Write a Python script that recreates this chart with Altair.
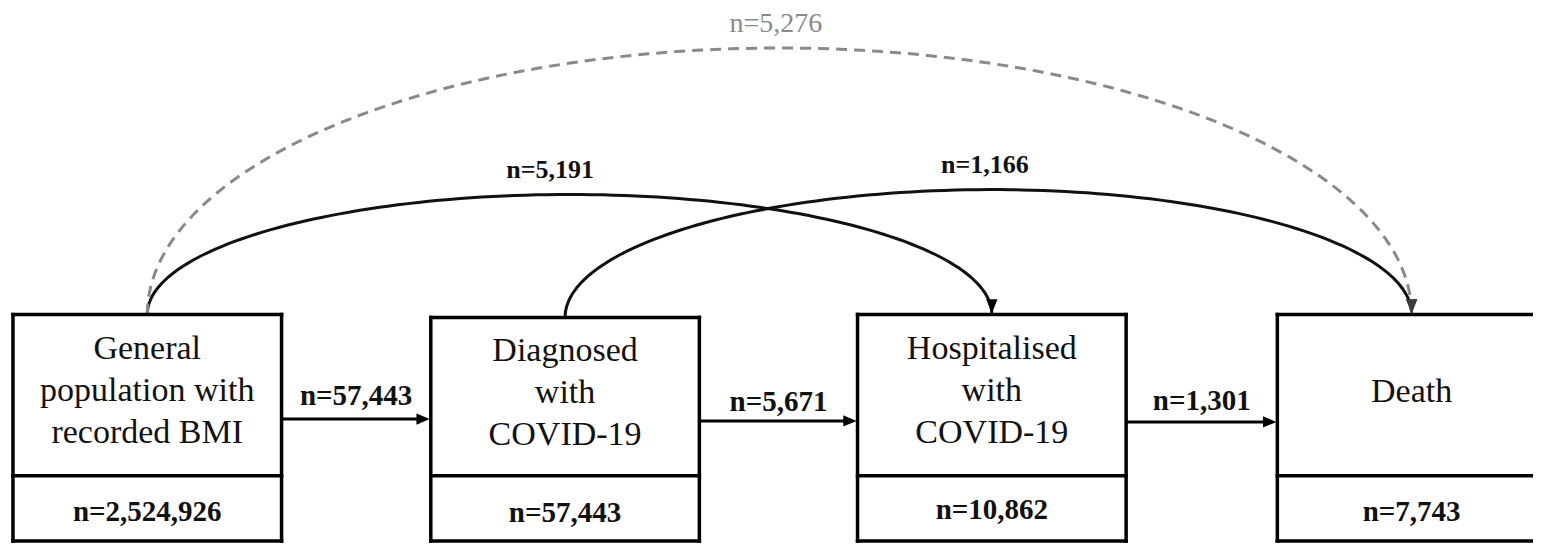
import altair as alt
import numpy as np
import pandas as pd

# ---------------- data ----------------
stage_lines = [
    ["General", "population with", "recorded BMI"],
    ["Diagnosed", "with", "COVID-19"],
    ["Hospitalised", "with", "COVID-19"],
    ["Death"],
]
stage_counts = ["n=2,524,926", "n=57,443", "n=10,862", "n=7,743"]
step_counts = ["n=57,443", "n=5,671", "n=1,301"]
skip_from = [0, 1, 0]
skip_to = [2, 3, 3]
skip_counts = ["n=5,191", "n=1,166", "n=5,276"]
skip_dashed = [False, False, True]

# ---------------- layout (reference pixel coordinates) ----------------
box_left = [13, 433, 862, 1284]
box_width = 270
box_top = [318, 321, 318, 318]
divider_y = 483
box_bottom = 550
text_center_y = [396, 398, 396, 397]
line_gap = 43
count_y = [520, 521, 518, 520]
step_y = [425, 427, 428]
step_label_y = [401, 408, 407]
arc_peak_y = [195, 190, 45]
arc_label_x = [553, 990, 780]
arc_label_y = [170, 165, 20]

FONT = "Liberation Serif"
W, H = 1525, 536
XS = alt.Scale(domain=[8, 1541], nice=False, zero=False)
YS = alt.Scale(domain=[4, 553], nice=False, zero=False, reverse=True)


def X(f):
    return alt.X(f, type="quantitative", scale=XS, axis=None)


def Y(f):
    return alt.Y(f, type="quantitative", scale=YS, axis=None)


centers = [l + box_width / 2 for l in box_left]
right_edge = [l + box_width for l in box_left[:3]] + [1541]

# white box backgrounds
boxes = pd.DataFrame({"x": box_left, "x2": right_edge, "y": box_top, "y2": [box_bottom] * 4})

# box outlines as segments (the last box runs off the right edge)
seg = []
for i in range(4):
    l, r, t = box_left[i], right_edge[i], box_top[i]
    seg.append({"x": l, "x2": r, "y": t, "y2": t})
    seg.append({"x": l, "x2": r, "y": divider_y, "y2": divider_y})
    seg.append({"x": l, "x2": r, "y": box_bottom, "y2": box_bottom})
    seg.append({"x": l, "x2": l, "y": t, "y2": box_bottom})
    if i < 3:
        seg.append({"x": r, "x2": r, "y": t, "y2": box_bottom})
edges = pd.DataFrame(seg)

# box texts
rows = []
for i, lines in enumerate(stage_lines):
    n = len(lines)
    for k, t in enumerate(lines):
        rows.append({"x": centers[i], "y": text_center_y[i] + (k - (n - 1) / 2) * line_gap, "t": t})
box_text = pd.DataFrame(rows)
count_text = pd.DataFrame({"x": centers, "y": count_y, "t": stage_counts})

# step arrows
steps = pd.DataFrame({
    "x": [right_edge[i] for i in range(3)],
    "x2": [box_left[i + 1] - 8 for i in range(3)],
    "y": step_y,
})
step_heads = pd.DataFrame({"x": [box_left[i + 1] - 1 for i in range(3)], "y": step_y})
step_text = pd.DataFrame({
    "x": [(right_edge[i] + box_left[i + 1]) / 2 for i in range(3)],
    "y": step_label_y,
    "t": step_counts,
})

# arcs (half ellipses between box tops)
arc_rows = []
for a in range(3):
    x0, x1 = centers[skip_from[a]], centers[skip_to[a]]
    y0, y1 = box_top[skip_from[a]], box_top[skip_to[a]]
    cx, rx = (x0 + x1) / 2, (x1 - x0) / 2
    ry = (y0 + y1) / 2 - arc_peak_y[a]
    th = np.linspace(np.pi, 0, 121)
    for k, t in enumerate(th):
        frac = k / 120
        arc_rows.append({
            "arc": a, "o": k,
            "x": cx + rx * np.cos(t),
            "y": (y0 + (y1 - y0) * frac) - ry * np.sin(t),
            "dashed": skip_dashed[a],
        })
arcs = pd.DataFrame(arc_rows)
arcs_solid = arcs[~arcs["dashed"]]
arcs_dashed = arcs[arcs["dashed"]]
arc_heads = pd.DataFrame({
    "x": [centers[skip_to[a]] for a in range(3)],
    "y": [box_top[skip_to[a]] - 1 for a in range(3)],
    "dashed": skip_dashed,
})
arc_text = pd.DataFrame({"x": arc_label_x, "y": arc_label_y, "t": skip_counts, "dashed": skip_dashed})

RIGHT = "M0,0 L-1.3,-0.55 L-1.3,0.55 Z"
DOWN = "M0,0 L-0.55,-1.4 L0.55,-1.4 Z"
HEAD = 420

layers = [
    alt.Chart(arcs_solid).mark_line(color="#111", strokeWidth=3, clip=True).encode(
        x=X("x"), y=Y("y"), detail="arc:N", order="o:Q"),
    alt.Chart(arcs_dashed).mark_line(color="#8a8a8a", strokeWidth=3, strokeDash=[11, 7], clip=True).encode(
        x=X("x"), y=Y("y"), detail="arc:N", order="o:Q"),
    alt.Chart(boxes).mark_rect(fill="white", strokeWidth=0, clip=True).encode(
        x=X("x"), x2="x2", y=Y("y"), y2="y2"),
    alt.Chart(edges).mark_rule(color="#000", strokeWidth=3.5, strokeCap="square", clip=True).encode(
        x=X("x"), x2="x2", y=Y("y"), y2="y2"),
    alt.Chart(steps).mark_rule(color="#000", strokeWidth=3).encode(x=X("x"), x2="x2", y=Y("y")),
    alt.Chart(step_heads).mark_point(shape=RIGHT, size=HEAD, filled=True, color="#000", opacity=1).encode(
        x=X("x"), y=Y("y")),
    alt.Chart(arc_heads[~arc_heads["dashed"]]).mark_point(shape=DOWN, size=HEAD, filled=True, color="#000", opacity=1).encode(
        x=X("x"), y=Y("y")),
    alt.Chart(arc_heads[arc_heads["dashed"]]).mark_point(shape=DOWN, size=HEAD, filled=True, color="#555", opacity=0.7).encode(
        x=X("x"), y=Y("y")),
    alt.Chart(box_text).mark_text(font=FONT, fontSize=34, color="#111", baseline="middle", align="center").encode(
        x=X("x"), y=Y("y"), text="t:N"),
    alt.Chart(count_text).mark_text(font=FONT, fontSize=29, fontWeight="bold", color="#111", baseline="middle", align="center").encode(
        x=X("x"), y=Y("y"), text="t:N"),
    alt.Chart(step_text).mark_text(font=FONT, fontSize=29, fontWeight="bold", color="#111", baseline="middle", align="center").encode(
        x=X("x"), y=Y("y"), text="t:N"),
    alt.Chart(arc_text[~arc_text["dashed"]]).mark_text(font=FONT, fontSize=26, fontWeight="bold", color="#111", baseline="middle", align="center").encode(
        x=X("x"), y=Y("y"), text="t:N"),
    alt.Chart(arc_text[arc_text["dashed"]]).mark_text(font=FONT, fontSize=28, color="#8a8a8a", baseline="middle", align="center").encode(
        x=X("x"), y=Y("y"), text="t:N"),
]

chart = alt.layer(*layers).properties(
    width=W, height=H, padding=0,
    autosize=alt.AutoSizeParams(type="fit", contains="padding"),
    background="white",
).configure_view(stroke=None)

chart.save("out.html", embed_options={"renderer": "svg", "actions": False})
